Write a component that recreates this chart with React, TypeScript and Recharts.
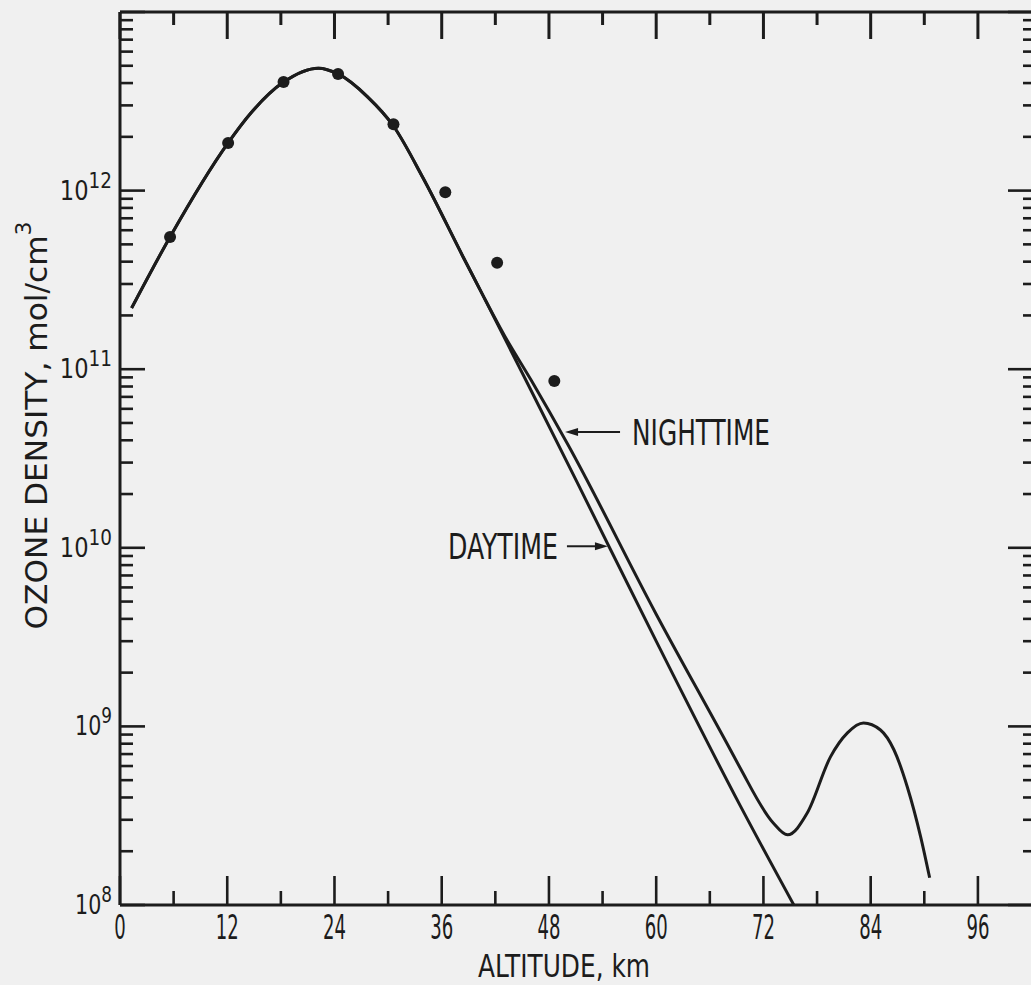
import React from "react";
import {
  ComposedChart,
  Line,
  Scatter,
  XAxis,
  YAxis,
  ReferenceDot,
  Label,
} from "recharts";

// shared part of the model profile (day and night coincide below ~40 km)
const sharedAltitude = [1.3, 5.6, 12.1, 14.6, 18.3, 22.2, 24.4, 27.7, 30.6, 33.9, 38.4, 40.6];
const sharedDensity = [2.2e11, 5.5e11, 1.85e12, 2.7e12, 4.05e12, 4.85e12, 4.5e12, 3.35e12, 2.3e12, 1.18e12, 4.25e11, 2.6e11];

const dayAltitude = [46, 51.2, 60, 69.4, 75.4];
const dayDensity = [7.6e10, 2.3e10, 3.0e9, 3.6e8, 1.0e8];

const nightAltitude = [43, 46, 50.1, 60, 68.3, 69.4, 73.1, 74.7, 76.9, 79.5, 81.4, 83.2, 85.1, 86.6, 88.1, 89.6, 90.6];
const nightDensity = [1.55e11, 8.7e10, 3.8e10, 4.25e9, 7.4e8, 5.85e8, 2.88e8, 2.47e8, 3.27e8, 6.75e8, 9.2e8, 1.045e9, 9.55e8, 7.4e8, 4.58e8, 2.4e8, 1.42e8];

// measured points
const measuredAltitude = [5.6, 12.1, 18.3, 24.4, 30.6, 36.4, 42.2, 48.6];
const measuredDensity = [5.5e11, 1.85e12, 4.05e12, 4.5e12, 2.35e12, 9.8e11, 3.95e11, 8.6e10];

const altitudeTicks = [0, 6, 12, 18, 24, 30, 36, 42, 48, 54, 60, 66, 72, 78, 84, 90, 96];
const densityDecades = [1e8, 1e9, 1e10, 1e11, 1e12, 1e13];
const minorSteps = [2, 3, 4, 5, 6, 7, 8, 9];

const nightArrowAt = { km: 49.8, density: 4.45e10 };
const dayArrowAt = { km: 54.6, density: 1.02e10 };

const CHART_H = 985;
const TOP_AXIS_H = 12;
const BOTTOM_AXIS_H = 80;
const PLOT_H = CHART_H - TOP_AXIS_H - BOTTOM_AXIS_H;

const INK = "#1c1c1c";
const FONT = "'Liberation Sans Narrow', 'DejaVu Sans Condensed', 'Liberation Sans', Arial, sans-serif";

const toPoints = (km: number[], density: number[]) =>
  km.map((k, i) => ({ km: k, density: density[i] }));

const shared = toPoints(sharedAltitude, sharedDensity);
const dayData = [...shared, ...toPoints(dayAltitude, dayDensity)];
const nightData = [...shared, ...toPoints(nightAltitude, nightDensity)];
const measured = toPoints(measuredAltitude, measuredDensity);

const densityTicks = densityDecades
  .flatMap((d) => [d, ...minorSteps.map((m) => m * d)])
  .filter((v) => v <= 1e13);

const isDecade = (v: number) => {
  const l = Math.log10(v);
  return Math.abs(l - Math.round(l)) < 1e-6;
};

// bottom tick + its mirror hanging from the top frame
function BottomTick(props: any) {
  const { x, y, payload } = props;
  const v = payload.value;
  const major = v % 12 === 0;
  const label = String(v);
  const top = y - PLOT_H;
  return (
    <g>
      <line x1={x} y1={y} x2={x} y2={y - (major ? 29 : 14)} stroke={INK} strokeWidth={2.6} />
      <rect x={x - 1.5} y={top} width={3} height={major ? 27 : 13} fill={INK} />
      {major && (
        <text
          x={x}
          y={y + 34}
          textAnchor="middle"
          fontSize={33}
          fontFamily={FONT}
          fill={INK}
          textLength={label.length * 11.5}
          lengthAdjust="spacingAndGlyphs"
        >
          {label}
        </text>
      )}
    </g>
  );
}

function LeftTick(props: any) {
  const { x, y, payload } = props;
  const v = payload.value;
  const major = isDecade(v);
  const exp = Math.round(Math.log10(v));
  const sx = String(exp).length === 2 ? 0.93 : 0.85;
  return (
    <g>
      <line x1={x} y1={y} x2={x + (major ? 25 : 13)} y2={y} stroke={INK} strokeWidth={2.6} />
      {major && exp < 13 && (
        <g transform={`translate(${x - 8}, ${y + 9}) scale(${sx}, 1)`}>
          <text x={0} y={0} textAnchor="end" fontSize={27} fontFamily={FONT} fill={INK}>
            10
            <tspan dy={-12} fontSize={22}>
              {exp}
            </tspan>
          </text>
        </g>
      )}
    </g>
  );
}

function RightTick(props: any) {
  const { x, y, payload } = props;
  const major = isDecade(payload.value);
  return <line x1={x} y1={y} x2={x - (major ? 28 : 13)} y2={y} stroke={INK} strokeWidth={2.6} />;
}

function XTitle(props: any) {
  const vb = props.viewBox;
  return (
    <text
      x={vb.x + vb.width / 2 - 14}
      y={vb.y + 72}
      textAnchor="middle"
      fontSize={32}
      fontFamily={FONT}
      fill={INK}
      textLength={172}
      lengthAdjust="spacingAndGlyphs"
    >
      ALTITUDE, km
    </text>
  );
}

function YTitle(props: any) {
  const vb = props.viewBox;
  const cy = vb.y + vb.height / 2 - 25;
  return (
    <text
      transform={`translate(${vb.x + 47}, ${cy}) rotate(-90)`}
      x={-196}
      y={0}
      fontSize={30}
      fontFamily={FONT}
      fill={INK}
      textLength={408}
      lengthAdjust="spacingAndGlyphs"
    >
      OZONE DENSITY, mol/cm
      <tspan dy={-16} fontSize={21}>
        3
      </tspan>
    </text>
  );
}

function NightMarker({ cx, cy }: any) {
  return (
    <g fill={INK} fontFamily={FONT}>
      <polygon points={`${cx},${cy} ${cx + 13},${cy - 4} ${cx + 13},${cy + 4}`} />
      <line x1={cx + 10} y1={cy} x2={cx + 55} y2={cy} stroke={INK} strokeWidth={2} />
      <text x={cx + 67} y={cy + 13} fontSize={35} textLength={138} lengthAdjust="spacingAndGlyphs">
        NIGHTTIME
      </text>
    </g>
  );
}

function DayMarker({ cx, cy }: any) {
  return (
    <g fill={INK} fontFamily={FONT}>
      <polygon points={`${cx},${cy} ${cx - 13},${cy - 4} ${cx - 13},${cy + 4}`} />
      <line x1={cx - 41} y1={cy} x2={cx - 10} y2={cy} stroke={INK} strokeWidth={2} />
      <text x={cx - 50} y={cy + 13} textAnchor="end" fontSize={35} textLength={110} lengthAdjust="spacingAndGlyphs">
        DAYTIME
      </text>
    </g>
  );
}

export default function App() {
  return (
    <div
      style={{
        position: "absolute",
        left: 0,
        top: 0,
        width: 1031,
        height: 985,
        overflow: "hidden",
        background: "#f0f0f0",
      }}
    >
      <ComposedChart width={1037} height={CHART_H} margin={{ top: 0, right: 0, bottom: 0, left: 0 }}>
        <XAxis
          dataKey="km"
          type="number"
          domain={[0, 102.5]}
          allowDataOverflow
          ticks={altitudeTicks}
          interval={0}
          tickSize={0}
          tickMargin={0}
          tick={BottomTick}
          height={BOTTOM_AXIS_H}
          axisLine={{ stroke: INK, strokeWidth: 3 }}
          label={<Label content={XTitle} />}
        />
        <XAxis
          xAxisId="top"
          orientation="top"
          type="number"
          domain={[0, 102.5]}
          allowDataOverflow
          tick={false}
          tickLine={false}
          height={TOP_AXIS_H}
          axisLine={{ stroke: INK, strokeWidth: 3 }}
        />
        <YAxis
          dataKey="density"
          type="number"
          scale="log"
          domain={[1e8, 1e13]}
          allowDataOverflow
          ticks={densityTicks}
          interval={0}
          tickSize={0}
          tickMargin={0}
          tick={LeftTick}
          width={120}
          axisLine={{ stroke: INK, strokeWidth: 3 }}
          label={<Label content={YTitle} />}
        />
        <YAxis
          yAxisId="right"
          orientation="right"
          type="number"
          scale="log"
          domain={[1e8, 1e13]}
          allowDataOverflow
          ticks={densityTicks}
          interval={0}
          tickSize={0}
          tickMargin={0}
          tick={RightTick}
          width={1}
          axisLine={{ stroke: INK, strokeWidth: 3 }}
        />
        <Line
          data={dayData}
          dataKey="density"
          type="monotone"
          stroke={INK}
          strokeWidth={3}
          dot={false}
          activeDot={false}
          isAnimationActive={false}
        />
        <Line
          data={nightData}
          dataKey="density"
          type="monotone"
          stroke={INK}
          strokeWidth={3}
          dot={false}
          activeDot={false}
          isAnimationActive={false}
        />
        <Scatter
          data={measured}
          dataKey="density"
          isAnimationActive={false}
          shape={(p: any) => <circle cx={p.cx} cy={p.cy} r={6} fill={INK} />}
        />
        <ReferenceDot x={nightArrowAt.km} y={nightArrowAt.density} shape={NightMarker} />
        <ReferenceDot x={dayArrowAt.km} y={dayArrowAt.density} shape={DayMarker} />
      </ComposedChart>
    </div>
  );
}
